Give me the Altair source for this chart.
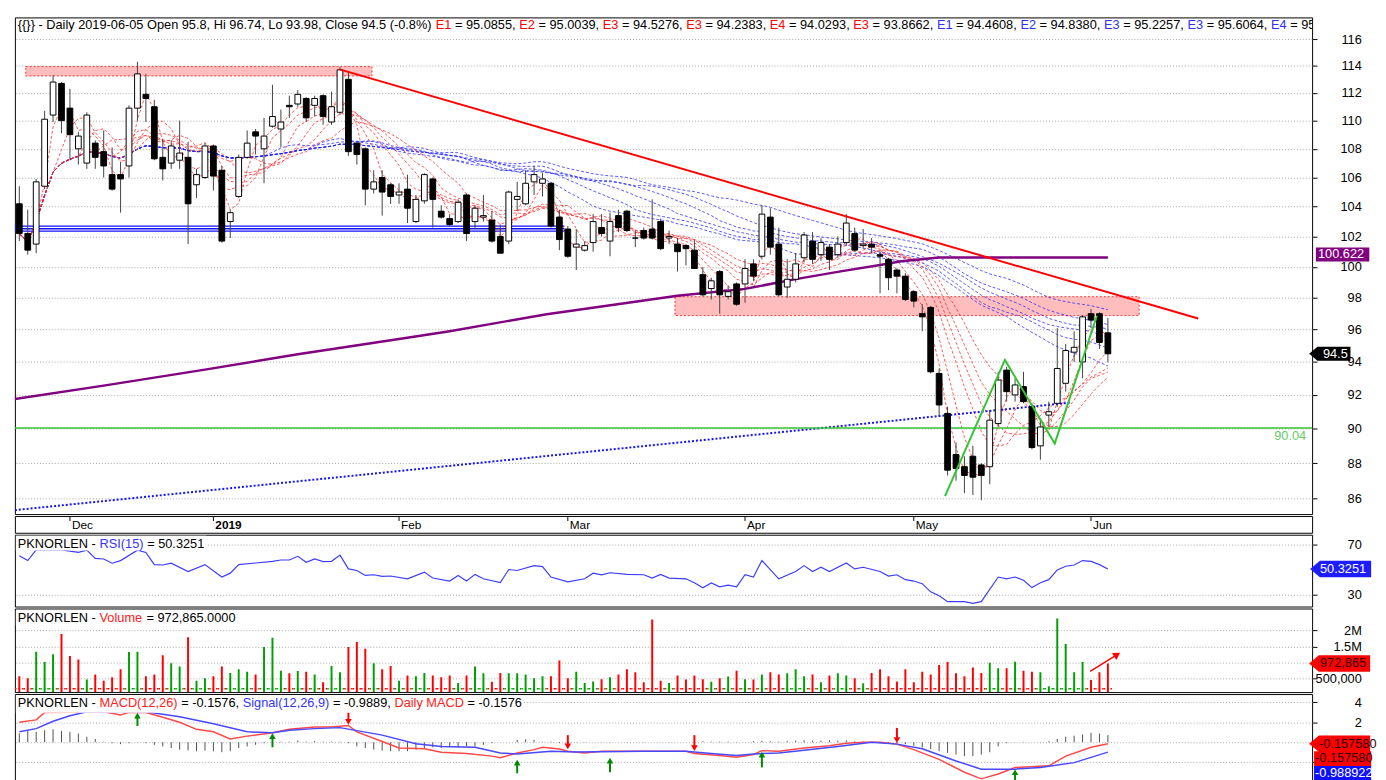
import altair as alt
import pandas as pd

FONT = "Liberation Sans"
BLACK = "#000000"
RED = "#FF0000"
BLUE = "#2F2FFF"
GREEN = "#33C433"

# ---------------- data (day index 0 = 2018-11-23 ... 129 = 2019-06-05) ----------------
opens = [104.2, 102.2, 101.5, 105.4, 110.4, 112.7, 110.9, 108.0, 107.0, 108.4,
         107.8, 106.2, 106.2, 106.8, 110.9, 111.9, 111.0, 107.4, 107.0, 107.2,
         107.4, 105.5, 106.0, 108.2, 106.5, 103.0, 104.7, 107.4, 109.2, 108.0,
         109.6, 109.4, 111.1, 111.2, 111.6, 111.1, 111.8, 109.9, 110.6, 113.0,
         108.4, 108.0, 105.2, 106.0, 105.5, 104.8, 105.2, 103.0, 104.4, 105.9,
         103.7, 103.2, 103.0, 104.8, 103.0, 103.3, 103.1, 102.0, 101.7, 104.5,
         104.2, 105.7, 105.6, 105.6, 103.3, 102.5, 101.3, 101.1, 101.6, 102.6,
         101.7, 103.4, 103.7, 101.9, 102.4, 102.5, 103.0, 101.9, 101.5, 101.4,
         101.1, 99.5, 98.6, 99.7, 98.1, 98.9, 98.9, 100.2, 100.7, 103.3,
         101.5, 98.7, 99.2, 100.6, 101.7, 100.8, 101.3, 100.8, 101.6, 102.2,
         101.4, 101.5, 100.8, 100.5, 99.8, 99.4, 98.4, 97.0, 97.4, 93.3,
         90.9, 88.5, 87.8, 88.4, 87.9, 87.8, 90.3, 93.5, 92.0, 92.5,
         91.3, 89.0, 90.8, 91.5, 92.7, 94.6, 94.0, 97.0, 97.0, 95.8]
highs = [105.4, 103.8, 105.9, 110.7, 113.3, 112.8, 112.3, 109.2, 110.6, 108.6,
         109.3, 108.1, 107.1, 111.1, 114.3, 113.4, 111.5, 108.7, 108.6, 110.0,
         108.5, 106.6, 108.4, 108.3, 106.8, 103.8, 107.6, 109.3, 109.4, 110.2,
         112.6, 110.8, 111.8, 112.2, 111.7, 111.8, 111.9, 112.1, 113.9, 113.6,
         108.5, 108.1, 106.5, 106.5, 105.6, 105.6, 106.2, 104.8, 106.3, 106.0,
         104.1, 103.5, 104.5, 104.9, 104.1, 104.8, 103.7, 102.8, 105.1, 105.7,
         106.5, 106.8, 106.3, 105.7, 103.8, 102.7, 102.5, 101.7, 103.5, 103.5,
         103.6, 103.8, 103.8, 102.4, 102.6, 104.5, 103.2, 102.4, 101.9, 101.5,
         101.8, 100.0, 99.3, 99.8, 98.8, 99.0, 100.5, 100.5, 104.1, 103.9,
         102.6, 100.5, 100.9, 102.3, 102.3, 101.9, 101.5, 102.0, 103.5, 102.6,
         102.5, 101.9, 101.0, 100.6, 99.9, 99.6, 98.5, 97.6, 97.5, 93.6,
         91.3, 89.2, 88.4, 89.0, 88.0, 91.1, 93.4, 93.7, 93.0, 93.4,
         91.5, 90.6, 91.6, 96.1, 95.1, 95.9, 96.9, 97.3, 97.1, 96.74]
lows = [101.7, 100.8, 100.9, 105.2, 109.9, 109.1, 107.2, 106.9, 106.6, 106.6,
        106.0, 105.1, 103.6, 106.0, 110.0, 109.9, 107.2, 105.8, 106.6, 106.6,
        101.5, 104.6, 105.9, 105.1, 101.6, 101.9, 104.6, 107.3, 107.6, 105.6,
        109.5, 108.1, 110.2, 111.0, 109.9, 110.3, 109.7, 109.7, 110.4, 107.5,
        106.9, 104.1, 104.9, 103.4, 104.2, 104.2, 102.9, 102.9, 104.2, 102.6,
        103.2, 102.7, 102.9, 101.7, 102.5, 103.0, 101.6, 100.9, 101.5, 103.7,
        104.1, 104.8, 104.7, 102.6, 101.1, 100.6, 99.8, 101.0, 101.0, 102.0,
        100.7, 102.3, 102.3, 101.3, 101.8, 101.8, 101.1, 101.5, 99.7, 100.1,
        99.9, 98.1, 97.9, 97.0, 97.9, 97.5, 97.7, 99.1, 100.5, 100.8,
        98.1, 98.0, 99.0, 100.3, 100.2, 100.4, 99.8, 100.6, 101.4, 101.0,
        101.2, 100.9, 98.3, 98.5, 98.3, 97.8, 97.4, 95.9, 93.3, 90.7,
        87.3, 87.0, 86.3, 86.2, 85.9, 86.8, 90.1, 91.6, 91.6, 91.5,
        88.8, 88.2, 90.1, 91.3, 92.2, 94.0, 93.0, 96.1, 94.8, 93.98]
closes = [102.2, 101.1, 105.7, 110.1, 112.8, 110.0, 109.0, 108.9, 110.4, 107.4,
          106.8, 105.2, 105.9, 110.9, 113.4, 111.6, 107.3, 106.6, 108.2, 107.7,
          104.2, 106.2, 108.2, 106.1, 101.7, 103.6, 107.4, 108.4, 108.9, 108.9,
          110.3, 109.9, 111.0, 111.9, 110.2, 111.6, 110.3, 111.0, 113.7, 107.8,
          107.6, 105.2, 105.7, 105.0, 104.7, 105.0, 103.9, 104.5, 106.2, 104.5,
          103.3, 102.8, 104.3, 102.2, 103.9, 103.4, 101.7, 100.9, 105.0, 104.7,
          105.6, 106.2, 105.9, 102.7, 101.8, 100.7, 101.5, 101.4, 103.0, 102.2,
          103.0, 102.6, 102.4, 101.9, 101.9, 101.9, 101.2, 102.0, 101.0, 101.2,
          99.9, 98.2, 99.1, 98.2, 98.4, 97.6, 99.9, 99.4, 103.5, 101.3,
          98.2, 99.2, 100.2, 102.1, 100.5, 101.6, 100.5, 101.5, 102.9, 101.1,
          101.5, 101.3, 100.7, 99.3, 99.4, 97.9, 97.8, 96.8, 93.4, 91.4,
          87.6, 87.7, 87.3, 87.2, 87.3, 90.5, 92.9, 92.2, 92.6, 91.6,
          88.9, 90.1, 91.0, 93.6, 94.7, 94.9, 96.8, 96.6, 95.2, 94.5]
volume_m = [0.58, 0.52, 1.34, 1.02, 1.26, 1.89, 1.21, 1.10, 0.48, 0.63,
            0.44, 0.55, 0.80, 1.33, 1.34, 0.58, 0.63, 1.23, 0.98, 0.88,
            1.79, 0.44, 0.52, 0.58, 0.88, 0.68, 0.80, 0.72, 0.63, 1.49,
            1.77, 0.75, 0.67, 0.74, 0.72, 0.63, 0.39, 0.90, 0.70, 1.49,
            1.64, 1.43, 0.98, 0.80, 0.90, 0.44, 0.60, 0.58, 0.68, 0.60,
            0.55, 0.60, 0.37, 0.60, 0.88, 0.67, 0.41, 0.68, 0.67, 0.67,
            0.63, 0.52, 0.58, 0.58, 1.07, 0.52, 0.72, 0.37, 0.42, 0.49,
            0.55, 0.63, 0.80, 0.70, 0.39, 2.34, 0.44, 0.37, 0.60, 0.48,
            0.60, 0.49, 0.41, 0.52, 0.57, 0.75, 0.49, 0.48, 0.63, 0.70,
            0.63, 0.67, 0.80, 0.58, 0.63, 0.39, 0.60, 0.67, 0.60, 0.52,
            0.36, 0.68, 0.80, 0.58, 0.42, 0.80, 0.39, 0.72, 0.63, 0.93,
            1.02, 0.67, 0.58, 0.85, 0.68, 1.00, 0.83, 0.83, 1.03, 0.75,
            0.72, 0.70, 0.27, 2.37, 1.58, 0.70, 1.02, 0.46, 0.70, 0.972865]
volume_dir = ["rrgggrrrgr", "rrrggrrrgg", "rggrrgggrg", "ggrgrgrggr", "rrgrrgrggr",
              "rrgrggrrgg", "gggrrrgggr", "grrrrrrgrr", "rrgrgrgrgr", "rgggrgrggr",
              "grrrrrrrrr", "rrrrrggrgr", "rggggggrrr"]
macd_hist = [0.87, 1.2, 1.04, 1.2, 1.29, 1.13, 1.04, 0.87, 0.55, 0.32,
             0.06, -0.1, -0.19, -0.1, -0.03, -0.1, -0.26, -0.42, -0.58, -0.74,
             -0.81, -0.9, -0.84, -0.9, -1.0, -0.9, -0.58, -0.42, -0.26, -0.1,
             -0.03, 0.06, 0.06, 0.16, 0.06, 0.13, 0.06, 0.06, 0.06, -0.1,
             -0.42, -0.58, -0.74, -0.84, -0.9, -0.9, -0.9, -0.74, -0.58, -0.52,
             -0.58, -0.52, -0.52, -0.42, -0.42, -0.26, -0.1, 0.0, 0.0, 0.23,
             0.29, 0.23, 0.06, 0.06, -0.1, -0.03, -0.03, -0.03, 0.0, 0.03,
             0.03, 0.0, -0.03, 0.0, 0.03, 0.0, 0.0, -0.03, 0.0, 0.0,
             0.06, 0.1, 0.06, 0.06, 0.06, -0.03, 0.0, 0.1, 0.16, 0.1,
             0.06, 0.1, 0.16, 0.2, 0.16, 0.16, 0.2, 0.16, 0.2, 0.1,
             0.06, 0.0, -0.1, -0.1, -0.16, -0.19, -0.35, -0.52, -0.68, -0.9,
             -1.07, -1.23, -1.39, -1.39, -1.23, -1.0, -0.42, -0.1, -0.03, 0.03,
             0.0, 0.03, 0.1, 0.32, 0.55, 0.65, 0.78, 0.94, 0.87, 0.71]

rsi_i = [0, 1, 2, 5, 7, 8, 9, 10, 11, 12, 14, 15, 16, 17, 18, 20, 22, 24, 25, 26,
         28, 30, 31, 32, 33, 34, 35, 36, 37, 38, 39, 40, 41, 42, 43, 44, 46, 48, 49, 51,
         52, 53, 54, 55, 57, 58, 59, 61, 62, 63, 65, 67, 68, 69, 70, 72, 74, 75, 76, 77,
         79, 80, 81, 82, 83, 84, 85, 86, 87, 88, 90, 92, 93, 94, 95, 96, 98, 99, 100, 102,
         103, 104, 105, 106, 107, 108, 109, 110, 112, 113, 114, 116, 117, 118, 119, 120,
         121, 122, 123, 124, 125, 126, 127, 128, 129]
rsi_v = [60.9, 57.0, 65.6, 65.6, 63.5, 65.3, 58.8, 58.3, 54.9, 57.0, 65.3, 63.5, 53.8, 53.5, 54.9,
         48.3, 53.8, 43.9, 47.0, 53.8, 55.1, 56.4, 57.5, 57.5, 60.4, 55.6, 58.3, 56.2, 56.4, 61.4,
         50.4, 49.1, 45.2, 45.7, 44.4, 44.7, 42.5, 47.8, 43.1, 40.7, 45.2, 40.7, 46.0, 42.5, 39.4,
         49.9, 49.1, 53.0, 52.2, 43.9, 40.0, 42.5, 47.0, 45.7, 47.3, 46.0, 45.7, 43.1, 46.0, 43.1,
         42.5, 39.4, 35.3, 39.2, 36.1, 37.4, 36.1, 45.7, 43.9, 57.0, 42.5, 48.3, 53.0, 48.3, 51.7,
         48.3, 55.1, 50.4, 51.7, 48.3, 44.7, 45.7, 41.8, 40.7, 38.6, 32.1, 29.0, 24.3, 24.3, 22.9,
         24.3, 43.9, 42.5, 43.9, 41.3, 35.5, 39.4, 41.8, 49.6, 52.5, 53.5, 57.0, 56.4, 53.8, 50.3251]

macd_i = [0, 2, 3, 10, 12, 13, 15, 17, 19, 21, 23, 25, 27, 30, 32, 35, 37, 39, 40, 43,
          45, 48, 50, 53, 56, 57, 59, 61, 62, 64, 65, 67, 69, 71, 74, 79, 80, 83, 85, 87,
          88, 90, 93, 96, 98, 100, 102, 104, 106, 109, 112, 114, 116, 118, 122, 124, 127, 129]
macd_v = [2.0, 2.23, 2.98, 3.04, 2.72, 2.98, 2.98, 2.5, 2.0, 1.29, 1.04, 0.32, 0.61, 0.94, 1.29,
          1.52, 1.52, 1.68, 1.04, 0.07, -0.58, -0.65, -1.0, -1.13, -1.39, -1.55, -1.07, -0.74,
          -0.51, -0.68, -0.9, -1.07, -0.9, -0.9, -0.9, -0.9, -1.13, -1.33, -1.49, -1.23, -0.84,
          -0.9, -0.58, -0.36, -0.1, 0.0, 0.0, -0.19, -0.74, -1.72, -3.0, -3.66, -3.17, -2.52,
          -2.36, -1.39, -0.51, -0.1576]
signal_i = [0, 2, 4, 6, 8, 11, 15, 19, 23, 27, 30, 32, 35, 38, 43, 47, 50, 54, 57, 59,
            63, 66, 74, 79, 82, 85, 87, 90, 93, 97, 101, 104, 107, 111, 114, 118, 121, 125, 129]
signal_v = [1.04, 1.36, 2.1, 2.65, 3.04, 3.04, 3.04, 2.55, 1.84, 1.04, 0.94, 1.2, 1.36, 1.46, 0.71,
            -0.16, -0.42, -0.51, -1.07, -1.17, -0.9, -0.97, -0.9, -0.9, -1.13, -1.33, -1.17, -1.07,
            -0.81, -0.42, 0.0, -0.19, -0.65, -1.87, -2.69, -2.69, -2.52, -2.04, -0.9889]

# crossover arrows (day, head value, tail value)
up_arrow_i = [14, 30, 59, 70, 88, 118]
up_arrow_head = [2.65, 0.61, -2.04, -1.84, -1.23, -3.0]
up_arrow_tail = [1.62, -0.51, -3.1, -3.0, -2.52, -3.98]
dn_arrow_i = [39, 65, 80, 104]
dn_arrow_head = [2.04, -0.42, -0.58, 0.22]
dn_arrow_tail = [3.2, 0.71, 0.71, 1.43]

# drawings on the price panel
purple_i = [-0.52, 10, 22, 33, 45, 51, 62.5, 78, 86, 92, 97.5, 102, 104.5, 109, 129]
purple_p = [91.76, 92.56, 93.53, 94.47, 95.41, 95.90, 96.97, 98.14, 98.58, 99.21, 99.73, 100.13,
            100.37, 100.62, 100.62]
support_i = [-0.52, 124.6]
support_p = [85.35, 91.54]
trend_i = [38.05, 139.7]
trend_p = [113.72, 96.70]
zigzag_i = [109.7, 116.8, 122.7, 127.7]
zigzag_p = [86.13, 94.12, 89.13, 96.87]
zone_x1 = [0.76, 77.7]
zone_x2 = [41.8, 132.7]
zone_lo = [113.25, 96.88]
zone_hi = [113.94, 98.08]
hband_x1 = [-0.52, -0.52, -0.52]
hband_x2 = [64.6, 64.6, 64.6]
hband_p = [102.69, 102.52, 102.36]
level_green = 90.04
vol_arrow_i = [126.9, 130.1]
vol_arrow_v = [730000, 1250000]
vol_dot_level = 195000

SHORT = [3, 5, 8, 10, 12, 15]
LONG = [30, 35, 40, 45, 50, 60]

month_i = [6, 23, 45, 65, 86, 106, 127]
month_lab = ["Dec", "2019", "Feb", "Mar", "Apr", "May", "Jun"]
month_bold = [False, True, False, False, False, False, False]

# ---------------- frames ----------------
n_days = len(closes)
df = pd.DataFrame({
    "i": list(range(n_days)), "open": opens, "high": highs, "low": lows, "close": closes,
    "vol": [v * 1e6 for v in volume_m], "dir": list("".join(volume_dir)), "hist": macd_hist,
})
ONE = pd.DataFrame({"k": [0]})

W = 1319
H_PRICE, H_STRIP, H_RSI, H_VOL, H_MACD = 505, 17, 73, 85, 92

xs = alt.Scale(domain=[-0.524, 153.2], nice=False, zero=False)
ps = alt.Scale(type="log", domain=[85.13, 117.65], nice=False)
rs = alt.Scale(domain=[20.4, 77.6], nice=False, zero=False)
vs = alt.Scale(domain=[88000, 2680000], nice=False, zero=False)
ms = alt.Scale(domain=[-4.23, 4.815], nice=False, zero=False)


def X(f):
    return alt.X(f, scale=xs, axis=None)


def raxis(values, **kw):
    return alt.Axis(orient="right", values=values, tickSize=5, tickColor="black",
                    labelPadding=45, labelAlign="right", labelFont=FONT, labelFontSize=13,
                    labelColor="black", grid=True, gridColor="#a8a8a8", gridDash=[1, 2],
                    domain=False, title=None, labelOverlap=False, **kw)


PRICE_AXIS = raxis(list(range(86, 117, 2)), format="d")
RSI_AXIS = raxis([30, 70])
VOL_AXIS = raxis([500000, 1000000, 1500000, 2000000],
                 labelExpr="datum.value >= 2000000 ? '2M' : datum.value >= 1500000 ? '1.5M' : "
                           "datum.value >= 1000000 ? '' : '500,000'")
MACD_AXIS = raxis([-2, 0, 2, 4], labelExpr="datum.value >= 4 ? '4' : datum.value >= 2 ? '2' : ''")

AW = {' ': 278, '{': 334, '}': 334, '-': 333, 'D': 722, 'a': 556, 'i': 222, 'l': 222, 'y': 500,
      'O': 778, 'p': 556, 'e': 556, 'n': 556, ',': 278, '.': 278, 'H': 722, 'L': 556, 'o': 556,
      'C': 722, 's': 500, '(': 333, ')': 333, '%': 889, 'E': 667, '=': 584, 'P': 667, 'K': 667,
      'N': 722, 'R': 722, 'S': 667, 'I': 278, 'V': 667, 'u': 556, 'm': 833, 'M': 833, 'A': 667,
      'g': 556, 'c': 500, 'r': 333}


def tw(s, size=13):
    return sum(AW.get(ch, 556) for ch in s) * size / 1000.0


def text_run(segs, x0, y, size=13, clip=False):
    layers = []
    x = x0
    for t, col in segs:
        s = t.lstrip(" ")
        lead = len(t) - len(s)
        layers.append(alt.Chart(ONE).mark_text(
            text=s, align="left", baseline="middle", font=FONT, fontSize=size,
            color=col, clip=clip).encode(x=alt.value(x + lead * 278 * size / 1000.0), y=alt.value(y)))
        x += tw(t, size)
    return layers, x


def label_bg(x_end, y1, y2):
    return alt.Chart(ONE).mark_rect(color="white").encode(
        x=alt.value(1), x2=alt.value(x_end), y=alt.value(y1), y2=alt.value(y2))


ARROW = "M -1 0 L -0.68 -0.27 L 1 -0.27 L 1 0.27 L -0.68 0.27 Z"
ARROW_SHORT = "M -1 0 L -0.6 -0.34 L 1 -0.34 L 1 0.34 L -0.6 0.34 Z"
RECT = "M -1 -0.26 L 1 -0.26 L 1 0.26 L -1 0.26 Z"


def value_box(val, scale, axis, fill, text, tcolor, shape, cx, size, tx, yoff=0):
    d = pd.DataFrame({"v": [val]})
    y = alt.Y("v:Q", scale=scale, axis=axis)
    box = alt.Chart(d).mark_point(shape=shape, filled=True, color=fill, opacity=1, size=size,
                                  strokeWidth=0, yOffset=yoff).encode(x=alt.value(cx), y=y)
    txt = alt.Chart(d).mark_text(text=text, align="left", baseline="middle", font=FONT,
                                 fontSize=13, color=tcolor, yOffset=yoff).encode(x=alt.value(tx), y=y)
    return [box, txt]


# ---------------- price panel ----------------
def PY(f):
    return alt.Y(f, scale=ps, axis=PRICE_AXIS)


zones = pd.DataFrame({"x1": zone_x1, "x2": zone_x2, "lo": zone_lo, "hi": zone_hi})
zone_layer = alt.Chart(zones).mark_rect(fill="#FFBDBD", stroke="#FF3030", strokeWidth=1,
                                        strokeDash=[2, 2]).encode(
    x=X("x1:Q"), x2="x2:Q", y=PY("lo:Q"), y2="hi:Q")

hb = pd.DataFrame({"x1": hband_x1, "x2": hband_x2, "p": hband_p})
hband_layer = alt.Chart(hb).mark_rule(color="#1010FF", strokeWidth=1.3).encode(
    x=X("x1:Q"), x2="x2:Q", y=PY("p:Q"))

ma = alt.Chart(df)
for nwin in SHORT + LONG:
    ma = ma.transform_window(frame=[-(nwin - 1), 0], sort=[alt.SortField("i")],
                             **{f"m{nwin}": "mean(close)"})
short_lines = ma.transform_fold([f"m{n}" for n in SHORT], as_=["k", "v"]).mark_line(
    color="#FF2020", strokeWidth=1, strokeDash=[3, 2], opacity=0.75).encode(
    x=X("i:Q"), y=PY("v:Q"), detail="k:N")
long_lines = ma.transform_fold([f"m{n}" for n in LONG], as_=["k", "v"]).mark_line(
    color="#2020FF", strokeWidth=1, strokeDash=[3, 2], opacity=0.75).encode(
    x=X("i:Q"), y=PY("v:Q"), detail="k:N")

purple_layer = alt.Chart(pd.DataFrame({"i": purple_i, "p": purple_p})).mark_line(
    color="#800080", strokeWidth=2.5).encode(x=X("i:Q"), y=PY("p:Q"))
support_layer = alt.Chart(pd.DataFrame({"i": support_i, "p": support_p})).mark_line(
    color="#1010FF", strokeWidth=2, strokeDash=[2, 2]).encode(x=X("i:Q"), y=PY("p:Q"))
green_level = alt.Chart(pd.DataFrame({"p": [level_green]})).mark_rule(
    color=GREEN, strokeWidth=1.5).encode(y=PY("p:Q"))
green_text = alt.Chart(pd.DataFrame({"p": [level_green]})).mark_text(
    align="right", baseline="middle", dy=8, font=FONT, fontSize=13, color="#66CC66").encode(
    x=alt.value(1313), y=PY("p:Q"), text=alt.Text("p:Q", format=".2f"))

cbase = alt.Chart(df).transform_calculate(
    xl="datum.i - 0.34", xr="datum.i + 0.34",
    top="max(datum.open, datum.close)", bot="min(datum.open, datum.close)")
wicks = cbase.mark_rule(color="#404040", strokeWidth=1).encode(
    x=X("i:Q"), y=PY("low:Q"), y2="high:Q")
bodies_up = cbase.transform_filter("datum.close >= datum.open").mark_rect(
    fill="white", stroke="black", strokeWidth=1).encode(
    x=X("xl:Q"), x2="xr:Q", y=PY("bot:Q"), y2="top:Q")
bodies_dn = cbase.transform_filter("datum.close < datum.open").mark_rect(
    fill="black", stroke="black", strokeWidth=1).encode(
    x=X("xl:Q"), x2="xr:Q", y=PY("bot:Q"), y2="top:Q")

trend_layer = alt.Chart(pd.DataFrame({"i": trend_i, "p": trend_p})).mark_line(
    color=RED, strokeWidth=2).encode(x=X("i:Q"), y=PY("p:Q"))
zigzag_layer = alt.Chart(pd.DataFrame({"i": zigzag_i, "p": zigzag_p})).mark_line(
    color=GREEN, strokeWidth=2).encode(x=X("i:Q"), y=PY("p:Q"))

hdr_segs = [("{{}} - Daily 2019-06-05 Open 95.8, Hi 96.74, Lo 93.98, Close 94.5 (-0.8%) ", BLACK),
            ("E1", RED), (" = 95.0855, ", BLACK), ("E2", RED), (" = 95.0039, ", BLACK),
            ("E3", RED), (" = 94.5276, ", BLACK), ("E3", RED), (" = 94.2383, ", BLACK),
            ("E4", RED), (" = 94.0293, ", BLACK), ("E3", RED), (" = 93.8662, ", BLACK),
            ("E1", BLUE), (" = 94.4608, ", BLACK), ("E2", BLUE), (" = 94.8380, ", BLACK),
            ("E3", BLUE), (" = 95.2257, ", BLACK), ("E3", BLUE), (" = 95.6064, ", BLACK),
            ("E4", BLUE), (" = 95.9671", BLACK)]
hdr_layers, _ = text_run(hdr_segs, 3, 8, clip=True)

price_boxes = (value_box(100.622, ps, PRICE_AXIS, "#800080", "100.622", "white", RECT, 1350, 2950, 1325,
                         yoff=-3)
               + value_box(94.5, ps, PRICE_AXIS, "#000000", "94.5", "white", ARROW_SHORT, 1337, 1764, 1330))

price = alt.layer(
    zone_layer, hband_layer, long_lines, short_lines, purple_layer, support_layer, green_level,
    wicks, bodies_up, bodies_dn, trend_layer, zigzag_layer, green_text,
    *hdr_layers, *price_boxes,
).properties(width=W, height=H_PRICE)

# ---------------- date strip ----------------
months = pd.DataFrame({"i": month_i, "lab": month_lab, "bold": month_bold})
m_ticks = alt.Chart(months).mark_rule(color="black").encode(
    x=X("i:Q"), y=alt.value(1), y2=alt.value(5))
m_text = alt.Chart(months).transform_filter("!datum.bold").mark_text(
    align="left", baseline="middle", dx=2, font=FONT, fontSize=12, color="black").encode(
    x=X("i:Q"), y=alt.value(9), text="lab:N")
m_text_b = alt.Chart(months).transform_filter("datum.bold").mark_text(
    align="left", baseline="middle", dx=2, font=FONT, fontSize=12, fontWeight="bold",
    color="black").encode(x=X("i:Q"), y=alt.value(9), text="lab:N")
strip = alt.layer(m_ticks, m_text, m_text_b).properties(width=W, height=H_STRIP)

# ---------------- RSI panel ----------------
rsi_df = pd.DataFrame({"i": rsi_i, "rsi": rsi_v})
rsi_line = alt.Chart(rsi_df).mark_line(color="#3C3CFF", strokeWidth=1.2).encode(
    x=X("i:Q"), y=alt.Y("rsi:Q", scale=rs, axis=RSI_AXIS))
rsi_lbl, rsi_end = text_run([("PKNORLEN - ", BLACK), ("RSI(15)", "#3333FF"), (" = 50.3251", BLACK)], 3, 9)
rsi = alt.layer(
    rsi_line, label_bg(rsi_end + 2, 1, 16), *rsi_lbl,
    *value_box(50.3251, rs, RSI_AXIS, "#1C1CFF", "50.3251", "white", ARROW, 1348, 3844, 1327),
).properties(width=W, height=H_RSI)

# ---------------- Volume panel ----------------
vcolor = alt.Color("dir:N", scale=alt.Scale(domain=["r", "g"], range=["#FF0000", "#00A000"]),
                   legend=None)
vol_dots = alt.Chart(df).transform_calculate(
    dl="datum.i - 0.5", dr="datum.i + 0.5", base=str(vol_dot_level)).mark_rule(
    strokeWidth=1.5, strokeDash=[1.5, 2]).encode(
    x=X("dl:Q"), x2="dr:Q", y=alt.Y("base:Q", scale=vs, axis=VOL_AXIS), color=vcolor)
vol_bars = alt.Chart(df).mark_rule(strokeWidth=2, clip=True).encode(
    x=X("i:Q"),
    y=alt.Y("vol:Q", scale=vs, axis=VOL_AXIS),
    y2=alt.datum(0),
    color=vcolor)
varrow = pd.DataFrame({"i": vol_arrow_i, "v": vol_arrow_v})
varrow_line = alt.Chart(varrow).mark_line(color=RED, strokeWidth=1.5).encode(
    x=X("i:Q"), y=alt.Y("v:Q", scale=vs, axis=VOL_AXIS))
varrow_head = alt.Chart(varrow.tail(1)).mark_point(
    shape="triangle-up", angle=58, filled=True, color=RED, opacity=1, size=70).encode(
    x=X("i:Q"), y=alt.Y("v:Q", scale=vs, axis=VOL_AXIS))
vol_lbl, vol_end = text_run([("PKNORLEN - ", BLACK), ("Volume", "#FF2020"), (" = 972,865.0000", BLACK)], 3, 10)
vol = alt.layer(
    vol_dots, vol_bars, varrow_line, varrow_head, label_bg(vol_end + 2, 2, 17), *vol_lbl,
    *value_box(972865, vs, VOL_AXIS, "#FF0000", "972,865", "#2a0000", ARROW, 1347, 3844, 1327),
).properties(width=W, height=H_VOL)

# ---------------- MACD panel ----------------
def MY(f):
    return alt.Y(f, scale=ms, axis=MACD_AXIS)


hist_layer = alt.Chart(df).mark_rule(color="#505050", strokeWidth=1).encode(
    x=X("i:Q"), y=MY("hist:Q"), y2=alt.datum(0))
macd_line = alt.Chart(pd.DataFrame({"i": macd_i, "m": macd_v})).mark_line(
    color="#FF4848", strokeWidth=1.5).encode(x=X("i:Q"), y=MY("m:Q"))
sig_line = alt.Chart(pd.DataFrame({"i": signal_i, "s": signal_v})).mark_line(
    color="#4848FF", strokeWidth=1.5).encode(x=X("i:Q"), y=MY("s:Q"))
ua = pd.DataFrame({"i": up_arrow_i, "h": up_arrow_head, "t": up_arrow_tail})
da = pd.DataFrame({"i": dn_arrow_i, "h": dn_arrow_head, "t": dn_arrow_tail})
ua_shaft = alt.Chart(ua).mark_rule(color="#008800", strokeWidth=2).encode(
    x=X("i:Q"), y=MY("t:Q"), y2="h:Q")
ua_head = alt.Chart(ua).mark_point(shape="triangle-up", filled=True, color="#008800",
                                   opacity=1, size=45).encode(x=X("i:Q"), y=MY("h:Q"))
da_shaft = alt.Chart(da).mark_rule(color=RED, strokeWidth=2).encode(
    x=X("i:Q"), y=MY("t:Q"), y2="h:Q")
da_head = alt.Chart(da).mark_point(shape="triangle-down", filled=True, color=RED,
                                   opacity=1, size=45).encode(x=X("i:Q"), y=MY("h:Q"))
macd_lbl, macd_end = text_run(
    [("PKNORLEN - ", BLACK), ("MACD(12,26)", "#FF2020"), (" = -0.1576, ", BLACK),
     ("Signal(12,26,9)", "#3333FF"), (" = -0.9889, ", BLACK), ("Daily MACD", "#FF2020"),
     (" = -0.1576", BLACK)], 3, 9)
macd = alt.layer(
    hist_layer, macd_line, sig_line, ua_shaft, ua_head, da_shaft, da_head,
    label_bg(macd_end + 2, 1, 19), *macd_lbl,
    *value_box(-0.1576, ms, MACD_AXIS, "#FF0000", "-0.157580", "#2a0000", ARROW, 1347, 3844, 1326),
    *value_box(-0.1576, ms, MACD_AXIS, "#FF0000", "-0.157580", "#2a0000", RECT, 1350, 3364, 1322, yoff=15),
    *value_box(-0.1576, ms, MACD_AXIS, "#1010FF", "-0.988922", "white", RECT, 1350, 3364, 1322, yoff=30),
).properties(width=W, height=H_MACD)

chart = alt.vconcat(price, strip, rsi, vol, macd, spacing=0).properties(
    padding={"left": 1, "top": 2, "right": 0, "bottom": 0}
).configure(font=FONT).configure_view(stroke="black", strokeWidth=1)

chart.save("out.html", embed_options={"renderer": "svg", "actions": False})
